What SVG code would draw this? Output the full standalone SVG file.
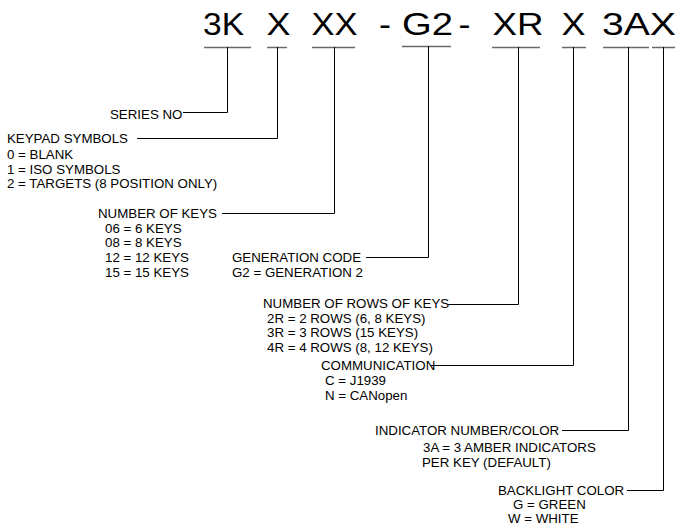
<svg xmlns="http://www.w3.org/2000/svg" width="675" height="529" viewBox="0 0 675 529">
<style>
.t{font-family:"Liberation Sans",Arial,sans-serif;font-size:31px;fill:#000}
.l{font-family:"Liberation Sans",Arial,sans-serif;font-size:13.3px;fill:#000}
.bar{stroke:#6a6a6a;stroke-width:1.5;fill:none}
.c{stroke:#000;stroke-width:1;fill:none}
</style>
<rect width="675" height="529" fill="#fff"/>
<g id="title">
<text class="t" x="203" y="35" textLength="41" lengthAdjust="spacingAndGlyphs">3K</text>
<text class="t" x="266.5" y="35" textLength="24" lengthAdjust="spacingAndGlyphs">X</text>
<text class="t" x="311.5" y="35" textLength="46" lengthAdjust="spacingAndGlyphs">XX</text>
<text class="t" x="379" y="35" textLength="12" lengthAdjust="spacingAndGlyphs">-</text>
<text class="t" x="402" y="35" textLength="51" lengthAdjust="spacingAndGlyphs">G2</text>
<text class="t" x="458.5" y="35" textLength="12" lengthAdjust="spacingAndGlyphs">-</text>
<text class="t" x="492.5" y="35" textLength="51" lengthAdjust="spacingAndGlyphs">XR</text>
<text class="t" x="561.5" y="35" textLength="24" lengthAdjust="spacingAndGlyphs">X</text>
<text class="t" x="602" y="35" textLength="74" lengthAdjust="spacingAndGlyphs">3AX</text>
</g>
<g id="connectors">
<path class="bar" d="M204 47.5H251M267 47.5H287M312 47.5H355M402 46.5H451M492 47.5H540M562 47.5H586M603 47.5H649M652 47.5H675"/>
<path class="c" d="M227.5 47V112.5H183"/>
<path class="c" d="M277.5 47V138.5H137"/>
<path class="c" d="M334.5 47V213.5H222"/>
<path class="c" d="M428.5 46V257.5H366"/>
<path class="c" d="M518.5 47V304.5H448"/>
<path class="c" d="M573.5 47V365.5H431"/>
<path class="c" d="M628.5 47V430.5H562"/>
<path class="c" d="M663.5 47V490.5H627"/>
</g>
<g id="series">
<text class="l" x="110" y="119">SERIES NO</text>
</g>
<g id="keypad">
<text class="l" x="7" y="143">KEYPAD SYMBOLS</text>
<text class="l" x="7" y="159">0 = BLANK</text>
<text class="l" x="7" y="173.5">1 = ISO SYMBOLS</text>
<text class="l" x="7" y="188">2 = TARGETS (8 POSITION ONLY)</text>
</g>
<g id="keys">
<text class="l" x="98" y="218">NUMBER OF KEYS</text>
<text class="l" x="105" y="232.5">06 = 6 KEYS</text>
<text class="l" x="105" y="247">08 = 8 KEYS</text>
<text class="l" x="105" y="262">12 = 12 KEYS</text>
<text class="l" x="105" y="277">15 = 15 KEYS</text>
</g>
<g id="generation">
<text class="l" x="232" y="262">GENERATION CODE</text>
<text class="l" x="232" y="277">G2 = GENERATION 2</text>
</g>
<g id="rows">
<text class="l" x="263" y="308">NUMBER OF ROWS OF KEYS</text>
<text class="l" x="267" y="322.5">2R = 2 ROWS (6, 8 KEYS)</text>
<text class="l" x="267" y="337">3R = 3 ROWS (15 KEYS)</text>
<text class="l" x="267" y="352">4R = 4 ROWS (8, 12 KEYS)</text>
</g>
<g id="communication">
<text class="l" x="321" y="370">COMMUNICATION</text>
<text class="l" x="325" y="385">C = J1939</text>
<text class="l" x="325" y="399.5">N = CANopen</text>
</g>
<g id="indicator">
<text class="l" x="375" y="434.5">INDICATOR NUMBER/COLOR</text>
<text class="l" x="423" y="452">3A = 3 AMBER INDICATORS</text>
<text class="l" x="422" y="466.5">PER KEY (DEFAULT)</text>
</g>
<g id="backlight">
<text class="l" x="498" y="494.5">BACKLIGHT COLOR</text>
<text class="l" x="513" y="508.5">G = GREEN</text>
<text class="l" x="508" y="522.5">W = WHITE</text>
</g>
</svg>
